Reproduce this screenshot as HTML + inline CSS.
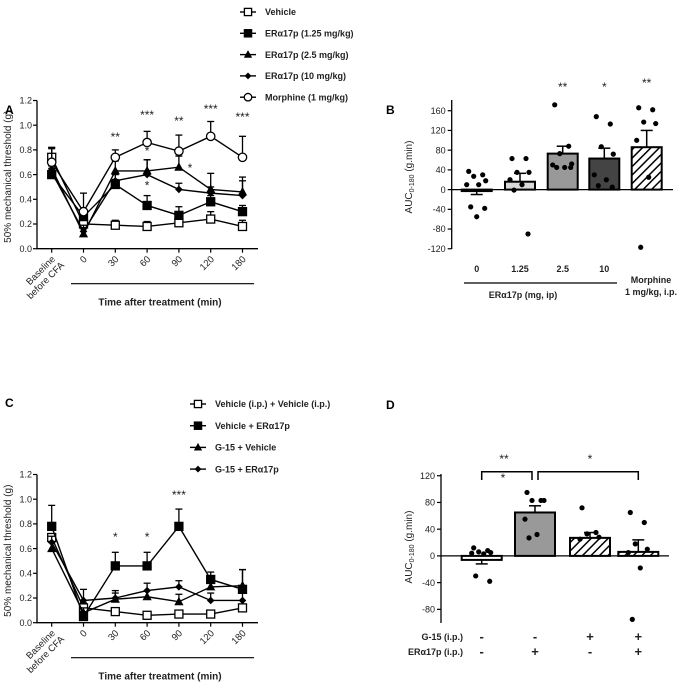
<!DOCTYPE html>
<html><head><meta charset="utf-8"><style>
html,body{margin:0;padding:0;background:#fff}
svg{display:block;font-family:"Liberation Sans",Arial,sans-serif}
</style></head><body>
<svg id="fig" width="684" height="690" viewBox="0 0 684 690" xmlns="http://www.w3.org/2000/svg">
<defs>
<pattern id="hatch" patternUnits="userSpaceOnUse" width="6" height="6" patternTransform="rotate(45)">
<rect width="6" height="6" fill="#fff"/><line x1="0" y1="0" x2="0" y2="6" stroke="#000" stroke-width="3"/>
</pattern>
</defs>
</svg>
<script>
// ---------- DATA ----------
const timeCats = ["Baseline|before CFA","0","30","60","90","120","180"];
const lineTicks = [0,0.2,0.4,0.6,0.8,1.0,1.2];
// Panel A
const aNames = ["Vehicle","ERα17p (1.25 mg/kg)","ERα17p (2.5 mg/kg)","ERα17p (10 mg/kg)","Morphine (1 mg/kg)"];
const aVehicle = [0.74,0.20,0.19,0.18,0.21,0.24,0.18];
const aVehicleErr = [0.08,0.06,0.04,0.04,0.04,0.06,0.05];
const aEr125 = [0.60,0.26,0.52,0.35,0.27,0.38,0.30];
const aEr125Err = [0.05,0.05,0.04,0.08,0.07,0.05,0.05];
const aEr25 = [0.65,0.12,0.63,0.63,0.66,0.48,0.46];
const aEr25Err = [0.16,0.05,0.08,0.09,0.09,0.13,0.12];
const aEr10 = [0.62,0.14,0.55,0.60,0.48,0.45,0.43];
const aEr10Err = [0.05,0.05,0.05,0.12,0.05,0.05,0.12];
const aMorph = [0.70,0.30,0.74,0.86,0.79,0.91,0.74];
const aMorphErr = [0.12,0.15,0.06,0.09,0.13,0.12,0.17];
const aStars = ["","","**","***","**","***","***"];
// Panel C
const cNames = ["Vehicle (i.p.) + Vehicle (i.p.)","Vehicle + ERα17p","G-15 + Vehicle","G-15 + ERα17p"];
const cVehVeh = [0.69,0.12,0.09,0.06,0.07,0.07,0.12];
const cVehVehErr = [0.03,0.04,0.03,0.02,0.02,0.02,0.03];
const cVehEr = [0.78,0.05,0.46,0.46,0.78,0.35,0.27];
const cVehErErr = [0.17,0.04,0.11,0.11,0.14,0.06,0.16];
const cG15Veh = [0.60,0.08,0.19,0.21,0.17,0.29,0.30];
const cG15VehErr = [0.05,0.04,0.05,0.05,0.06,0.05,0.13];
const cG15Er = [0.65,0.18,0.20,0.26,0.29,0.18,0.18];
const cG15ErErr = [0.05,0.09,0.06,0.06,0.05,0.06,0.06];
const cStars = ["","","*","*","***","",""];
// Panel B
const bCats = ["0","1.25","2.5","10","Morphine"];
const bMeans = [-3,16,73,63,86];
const bErr = [7,17,15,21,34];
const bDots = [[37,30,27,18,10,10,-35,-38,-55],[63,63,35,35,20,10,-1,-90],[172,88,73,52,50,45,45,45],[148,133,87,72,30,20,8,5],[166,162,137,134,100,25,-117]];
const bTicks = [-120,-80,-40,0,40,80,120,160];
const bStars = ["","","**","*","**"];
// Panel D
const dMeans = [-6,65,27,6];
const dErr = [6,10,8,18];
const dDots = [[12,8,6,5,4,3,-30,-38],[95,83,83,83,55,32,27],[72,35,33,28,25],[65,50,18,10,5,-18,-95]];
const dTicks = [-80,-40,0,40,80,120];
const dG15 = ["-","-","+","+"];
const dEr = ["-","+","-","+"];

// ---------- HELPERS ----------
const NS="http://www.w3.org/2000/svg";
const svg=document.getElementById('fig');
function mk(tag,attrs,parent){const e=document.createElementNS(NS,tag);for(const k in attrs)e.setAttribute(k,attrs[k]);(parent||svg).appendChild(e);return e;}
function txt(s,x,y,size,opts,parent){const t=mk('text',Object.assign({x:x,y:y,'font-size':size},opts||{}),parent);t.textContent=s;return t;}
function marker(kind,x,y,g,sc){
  sc=sc||1;let e;
  if(kind==='osq'||kind==='sq'){const h=4*sc;e=mk('rect',{x:x-h,y:y-h,width:2*h,height:2*h,fill:kind==='sq'?'#000':'#fff',stroke:'#000','stroke-width':1.3},g);}
  else if(kind==='tri'){e=mk('polygon',{points:`${x},${y-5*sc} ${x+4.6*sc},${y+3.5*sc} ${x-4.6*sc},${y+3.5*sc}`,fill:'#000'},g);}
  else if(kind==='dia'){const h=3.8*sc;e=mk('polygon',{points:`${x},${y-h} ${x+h},${y} ${x},${y+h} ${x-h},${y}`,fill:'#000'},g);}
  else {e=mk('circle',{cx:x,cy:y,r:4.2*sc,fill:'#fff',stroke:'#000','stroke-width':1.3},g);}
  return e;
}
function linePanel(p){
  const xs=i=>51.7+i*31.8;
  const ys=v=>p.y0-v/0.2*24.7;
  const g=mk('g',{});
  
  
  const ax=mk('path',{d:`M37,${ys(1.2)} L37,${p.y0} L258,${p.y0}`,stroke:'#000','stroke-width':1.3,fill:'none'},g);
  
  
  lineTicks.forEach(v=>{
    mk('line',{x1:33,x2:37,y1:ys(v),y2:ys(v),stroke:'#000','stroke-width':1.2},g);
    const t=txt(v.toFixed(1),32,ys(v)+3.2,9,{'text-anchor':'end',fill:'#222'},g);
    
    
  });
  timeCats.forEach((c,i)=>{
    mk('line',{x1:xs(i),x2:xs(i),y1:p.y0,y2:p.y0+4,stroke:'#000','stroke-width':1.2},g);
    const parts=c.split('|');
    parts.forEach((s,k)=>{
      const t=txt(s,0,0,9.5,{'text-anchor':'end',fill:'#222',transform:`translate(${xs(i)+4+k*9},${p.y0+11+k*6}) rotate(-45)`},g);
      
      
    });
  });
  mk('line',{x1:71,x2:254,y1:p.y0+35,y2:p.y0+35,stroke:'#000','stroke-width':1.2},g);
  const xt=txt('Time after treatment (min)',160,p.y0+57,10,{'text-anchor':'middle','font-weight':'bold',fill:'#222'},g);
  
  
  const yt=txt('50% mechanical threshold (g)',0,0,10,{'text-anchor':'middle',fill:'#222',transform:`translate(11,${p.y0-72}) rotate(-90)`},g);
  
  
  p.series.forEach((s,si)=>{
    const sg=mk('g',{},g);
    
    
    s.vals.forEach((v,i)=>{
      const top=ys(v+s.err[i]);
      mk('line',{x1:xs(i),x2:xs(i),y1:ys(v),y2:top,stroke:'#000','stroke-width':1.3},sg);
      mk('line',{x1:xs(i)-3.5,x2:xs(i)+3.5,y1:top,y2:top,stroke:'#000','stroke-width':1.3},sg);
    });
    mk('polyline',{points:s.vals.map((v,i)=>xs(i)+','+ys(v)).join(' '),fill:'none',stroke:'#000','stroke-width':1.4},sg);
    s.vals.forEach((v,i)=>{const m=marker(s.kind,xs(i),ys(v),sg);
      
      });
    const ly=p.legY+si*p.legDy;
    mk('line',{x1:p.legX-8,x2:p.legX+8,y1:ly,y2:ly,stroke:'#000','stroke-width':1.4},g);
    const lm=marker(s.kind,p.legX,ly,g,0.9);
    
    
    const lt=txt(s.label,p.legX+17,ly+3.2,9,{'font-weight':'bold',fill:'#222'},g);
    
    
  });
  p.stars.forEach((s,i)=>{if(!s)return;
    const t=txt(s,xs(i),p.starY[i],12,{'text-anchor':'middle',fill:'#222'},g);
    
    });
  (p.extraStars||[]).forEach(e=>{const t=txt('*',xs(e[0])+e[1],ys(e[2]),12,{'text-anchor':'middle',fill:'#222'},g);
    
    });
  const L=txt(p.letter,5,p.letterY,12,{'font-weight':'bold'},g);
  
  
}
function barPanel(p){
  const ys=v=>p.zero-v*p.k;
  const g=mk('g',{});
  
  
  mk('line',{x1:p.ax,x2:p.ax,y1:p.axTop,y2:p.axBot,stroke:'#000','stroke-width':1.3},g);
  p.ticks.forEach(v=>{
    mk('line',{x1:p.ax-4,x2:p.ax,y1:ys(v),y2:ys(v),stroke:'#000','stroke-width':1.2},g);
    const t=txt(String(v),p.ax-6,ys(v)+3.2,9,{'text-anchor':'end',fill:'#222'},g);
    
    
  });
  p.means.forEach((m,i)=>{
    const cx=p.cx[i];
    const b=mk('rect',{x:cx-p.w/2,y:Math.min(ys(m),p.zero),width:p.w,height:Math.abs(ys(m)-p.zero),fill:p.fills[i],stroke:'#000','stroke-width':2},g);
    
    
    const e=m>=0?m+p.err[i]:m-p.err[i];
    mk('line',{x1:cx,x2:cx,y1:ys(m),y2:ys(e),stroke:'#000','stroke-width':1.5},g);
    mk('line',{x1:cx-6,x2:cx+6,y1:ys(e),y2:ys(e),stroke:'#000','stroke-width':1.5},g);
    const offs=[-8,6,-3,9,-10,2,-6,8,0];
    p.dots[i].forEach((d,j)=>{
      const c=mk('circle',{cx:cx+offs[j%offs.length],cy:ys(d),r:2.6,fill:'#000'},g);
      
      
    });
  });
  mk('line',{x1:p.ax,x2:p.axRight,y1:p.zero,y2:p.zero,stroke:'#000','stroke-width':1.3},g);
  const yt=txt('AUC',0,0,10,{'text-anchor':'middle',fill:'#222',transform:`translate(412,${p.yTitleY}) rotate(-90)`},g);
  const sub=mk('tspan',{'font-size':7,dy:2},yt);sub.textContent='0-180';
  const rest=mk('tspan',{dy:-2},yt);rest.textContent=' (g.min)';
  
  
  const L=txt(p.letter,386,p.letterY,12,{'font-weight':'bold'},g);
  
  
  return g;
}

// ---------- PANEL A ----------
linePanel({name:'panel-a-line-chart',letter:'A',letterY:114,y0:248.7,legX:248,legY:12,legDy:21.3,
  series:[{kind:'osq',vals:aVehicle,err:aVehicleErr,label:aNames[0]},{kind:'sq',vals:aEr125,err:aEr125Err,label:aNames[1]},
    {kind:'tri',vals:aEr25,err:aEr25Err,label:aNames[2]},{kind:'dia',vals:aEr10,err:aEr10Err,label:aNames[3]},
    {kind:'oc',vals:aMorph,err:aMorphErr,label:aNames[4]}],
  stars:aStars,starY:[0,0,141,119,125,113,121],extraStars:[[3,0,0.76],[3,0,0.48],[4,11,0.62]]});
// ---------- PANEL C ----------
linePanel({name:'panel-c-line-chart',letter:'C',letterY:407,y0:622.7,legX:198,legY:404,legDy:21.7,
  series:[{kind:'osq',vals:cVehVeh,err:cVehVehErr,label:cNames[0]},{kind:'sq',vals:cVehEr,err:cVehErErr,label:cNames[1]},
    {kind:'tri',vals:cG15Veh,err:cG15VehErr,label:cNames[2]},{kind:'dia',vals:cG15Er,err:cG15ErErr,label:cNames[3]}],
  stars:cStars,starY:[0,0,541,541,499,0,0]});
// ---------- PANEL B ----------
const gb=barPanel({name:'panel-b-bar-chart',letter:'B',letterY:114,ax:451.7,zero:189.6,k:0.493,axTop:100,axBot:249,axRight:673,
  ticks:bTicks,means:bMeans,err:bErr,dots:bDots,cx:[476.7,520,562.7,604.3,646.7],w:30,
  fills:['#fff','#d9d9d9','#999','#444','url(#hatch)'],yTitleY:177});
[476.7,520,562.7,604.3,646.7].forEach((x,i)=>{
  if(bStars[i]){const t=txt(bStars[i],x,i===4?87:91,12,{'text-anchor':'middle',fill:'#222'},gb);
    
    }
  if(i<4){const t=txt(bCats[i],x,272,9,{'text-anchor':'middle','font-weight':'bold',fill:'#222'},gb);
    
    }
});
mk('line',{x1:464,x2:617,y1:283,y2:283,stroke:'#000','stroke-width':1.2},gb);
let tb=txt('ERα17p (mg, ip)',523,298,9,{'text-anchor':'middle','font-weight':'bold',fill:'#222'},gb);


tb=txt('Morphine',651,283,9,{'text-anchor':'middle','font-weight':'bold',fill:'#222'},gb);


tb=txt('1 mg/kg, i.p.',651,295,9,{'text-anchor':'middle','font-weight':'bold',fill:'#222'},gb);


// ---------- PANEL D ----------
const dcx=[481.7,535,590,638.3];
const gd=barPanel({name:'panel-d-bar-chart',letter:'D',letterY:409,ax:441,zero:555.9,k:0.668,axTop:474,axBot:623,axRight:669,
  ticks:dTicks,means:dMeans,err:dErr,dots:dDots,cx:dcx,w:40,
  fills:['#fff','#999','url(#hatch)','url(#hatch)'],yTitleY:547});
mk('path',{d:'M481.7,480 L481.7,471.7 L532,471.7 L532,480',fill:'none',stroke:'#000','stroke-width':1.5},gd);
mk('path',{d:'M538,480 L538,471.7 L638.3,471.7 L638.3,480',fill:'none',stroke:'#000','stroke-width':1.5},gd);
[['**',504,463],['*',503,482],['*',590,463]].forEach(a=>{const t=txt(a[0],a[1],a[2],12,{'text-anchor':'middle',fill:'#222'},gd);
  
  });
tb=txt('G-15 (i.p.)',463,640,9,{'text-anchor':'end','font-weight':'bold',fill:'#222'},gd);


tb=txt('ERα17p (i.p.)',463,655,9,{'text-anchor':'end','font-weight':'bold',fill:'#222'},gd);


dcx.forEach((x,i)=>{
  let t=txt(dG15[i],x,641,13,{'text-anchor':'middle','font-weight':'bold',fill:'#222'},gd);
  
  
  t=txt(dEr[i],x,656,13,{'text-anchor':'middle','font-weight':'bold',fill:'#222'},gd);
  
  
});
</script>
</body></html>
